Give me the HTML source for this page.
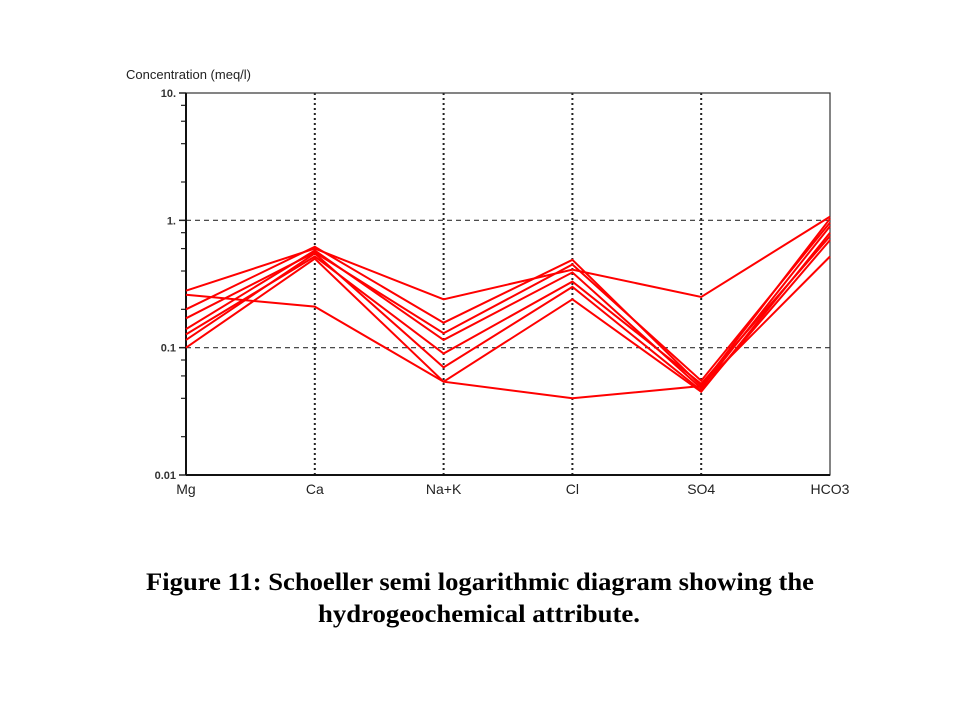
<!DOCTYPE html>
<html><head><meta charset="utf-8"><style>
html,body{margin:0;padding:0;background:#fff;}
svg{display:block;font-family:"Liberation Sans",Arial,sans-serif;}
</style></head><body>
<svg id="chart" width="960" height="720" viewBox="0 0 960 720">
<g id="grid"></g>
<g id="axes"></g>
<g id="series"></g>
<text x="126" y="79" font-size="13" fill="#222">Concentration (meq/l)</text>
<text x="480" y="590" text-anchor="middle" font-family="Liberation Serif,serif" font-weight="bold" font-size="25" textLength="668" lengthAdjust="spacingAndGlyphs">Figure 11: Schoeller semi logarithmic diagram showing the</text>
<text x="479" y="622" text-anchor="middle" font-family="Liberation Serif,serif" font-weight="bold" font-size="25" textLength="322" lengthAdjust="spacingAndGlyphs">hydrogeochemical attribute.</text>
</svg>
<script>
const categories = ["Mg","Ca","Na+K","Cl","SO4","HCO3"];
const yTicks = [10, 1, 0.1, 0.01];
const yTickLabels = ["10.", "1.", "0.1", "0.01"];
const s1 = [0.28, 0.60, 0.24, 0.41, 0.25, 1.07];
const s2 = [0.26, 0.21, 0.054, 0.040, 0.050, 0.52];
const s3 = [0.20, 0.62, 0.157, 0.49, 0.050, 1.03];
const s4 = [0.17, 0.56, 0.13, 0.45, 0.055, 0.96];
const s5 = [0.14, 0.58, 0.115, 0.39, 0.048, 0.90];
const s6 = [0.127, 0.52, 0.09, 0.33, 0.052, 0.75];
const s7 = [0.115, 0.55, 0.07, 0.30, 0.046, 0.70];
const s8 = [0.10, 0.50, 0.054, 0.24, 0.045, 0.80];
const allSeries = [s1,s2,s3,s4,s5,s6,s7,s8];

const NS="http://www.w3.org/2000/svg";
const L=186,R=830,T=93,B=475;
const logMin=-2, logMax=1;
function yScale(v){return B-(Math.log10(v)-logMin)/(logMax-logMin)*(B-T);}
function xScale(i){return L+i*(R-L)/(categories.length-1);}
function mk(tag,attrs,parent){const e=document.createElementNS(NS,tag);for(const k in attrs)e.setAttribute(k,attrs[k]);parent.appendChild(e);return e;}
const grid=document.getElementById('grid'),axes=document.getElementById('axes'),ser=document.getElementById('series');

yTicks.forEach((v,i)=>{
  const y=yScale(v);
  if(v<10&&v>0.01){
    const g=mk('line',{x1:L,x2:R,y1:y,y2:y,stroke:'#333','stroke-width':1.2,'stroke-dasharray':'5,4'},grid);
    
    
  }
  const t=mk('line',{x1:L-7,x2:L,y1:y,y2:y,stroke:'#222','stroke-width':1.5},axes);
  
  
  const tx=mk('text',{x:L-10,y:y+4,'text-anchor':'end','font-size':11,'font-weight':'bold',fill:'#333'},axes);
  tx.textContent=yTickLabels[i];
  
  
});
[0.01,0.1,1].forEach(d=>{[2,4,6,8].forEach(m=>{
  const y=yScale(d*m);
  const t=mk('line',{x1:L-5,x2:L,y1:y,y2:y,stroke:'#222','stroke-width':1.2},axes);
  
  
});});
categories.forEach((c,i)=>{
  const x=xScale(i);
  if(i>0&&i<categories.length-1){
    const g=mk('line',{x1:x,x2:x,y1:T,y2:B,stroke:'#222','stroke-width':2,'stroke-dasharray':'2,3'},grid);
    
    
  }
  const tx=mk('text',{x:x,y:494,'text-anchor':'middle','font-size':14,fill:'#222'},axes);
  tx.textContent=c;
  
  
});
const fr=mk('rect',{x:L,y:T,width:R-L,height:B-T,fill:'none',stroke:'#333','stroke-width':1.2},axes);


const ya=mk('line',{x1:L,x2:L,y1:T,y2:B,stroke:'#111','stroke-width':2},axes);


const xa=mk('line',{x1:L,x2:R,y1:B,y2:B,stroke:'#111','stroke-width':2},axes);


allSeries.forEach((s,k)=>{
  const pts=s.map((v,i)=>xScale(i).toFixed(1)+','+yScale(v).toFixed(1)).join(' ');
  const p=mk('polyline',{points:pts,fill:'none',stroke:'#f00','stroke-width':2},ser);
  
  
});
</script>
</body></html>
